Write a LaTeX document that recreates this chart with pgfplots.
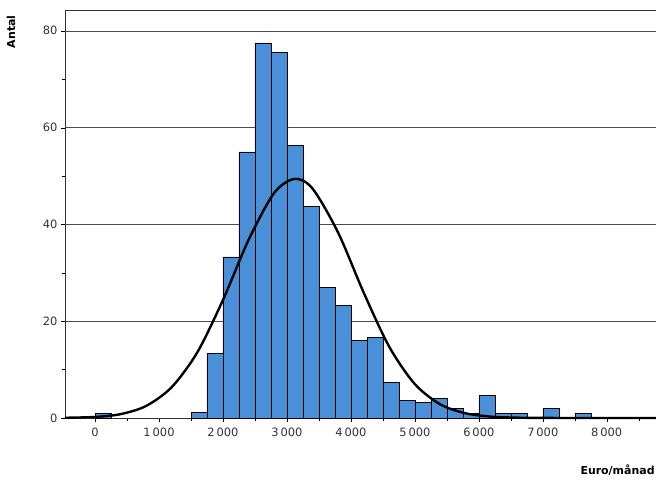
\documentclass[border=0pt]{standalone}
\usepackage{pgfplots}
\pgfplotsset{compat=1.18}
\usepackage{fontspec}
\setmainfont{DejaVu Sans}
\definecolor{barblue}{RGB}{74,144,217}
\begin{document}
\begin{tikzpicture}[x=1bp,y=1bp]
\useasboundingbox (-65,-65) rectangle (591,418);
\begin{axis}[
  at={(0,0)}, anchor=south west,
  width=591bp, height=408bp, scale only axis,
  xmin=-470, xmax=8770, ymin=0, ymax=84.3,
  clip=false,
  font=\fontsize{11.5}{13}\selectfont,
  /pgf/number format/assume math mode=true,
  xtick={0,1000,...,8000},
  xticklabels={0,1\,000,2\,000,3\,000,4\,000,5\,000,6\,000,7\,000,8\,000},
  minor xtick={-500,500,1500,...,8500},
  ytick={0,20,40,60,80}, minor ytick={10,30,50,70},
  ymajorgrids, major grid style={black!70, line width=0.5pt},
  tick align=outside, tick style={black}, major tick length=4pt, minor tick length=3pt,
  xtick pos=bottom, ytick pos=left,
  axis line style={black!80},
  ticklabel style={text=black!80},
  xticklabel style={yshift=-3pt},
]
\addplot[ybar, bar width=250, fill=barblue, draw=black, line width=0.5pt] coordinates {
(125,1) (1625,1.2) (1875,13.3) (2125,33.3) (2375,55) (2625,77.5) (2875,75.5)
(3125,56.3) (3375,43.7) (3625,27) (3875,23.3) (4125,16) (4375,16.7) (4625,7.3)
(4875,3.7) (5125,3.3) (5375,4) (5625,2) (5875,1) (6125,4.6) (6375,1) (6625,1)
(7125,2) (7625,1)
};
\addplot[smooth, black, line width=2.4pt, mark=none] coordinates {
(-470,0.05) (0,0.22) (400,0.8) (800,2.5) (1200,6.4) (1600,13.6) (2000,24.4)
(2400,36.8) (2800,46.5) (3120,49.4) (3400,47.4) (3800,38.3) (4200,25.9)
(4600,14.7) (5000,7) (5400,2.8) (5800,0.95) (6200,0.27) (6600,0.07) (7000,0.02)
(7600,0) (8770,0)
};
\end{axis}
\node[font=\fontsize{11}{13}\selectfont\bfseries, rotate=90, anchor=east] at (-54,406) {Antal};
\node[font=\fontsize{11}{13}\selectfont\bfseries, anchor=west, overlay] at (512,-52) {Euro/månad};
\end{tikzpicture}
\end{document}
